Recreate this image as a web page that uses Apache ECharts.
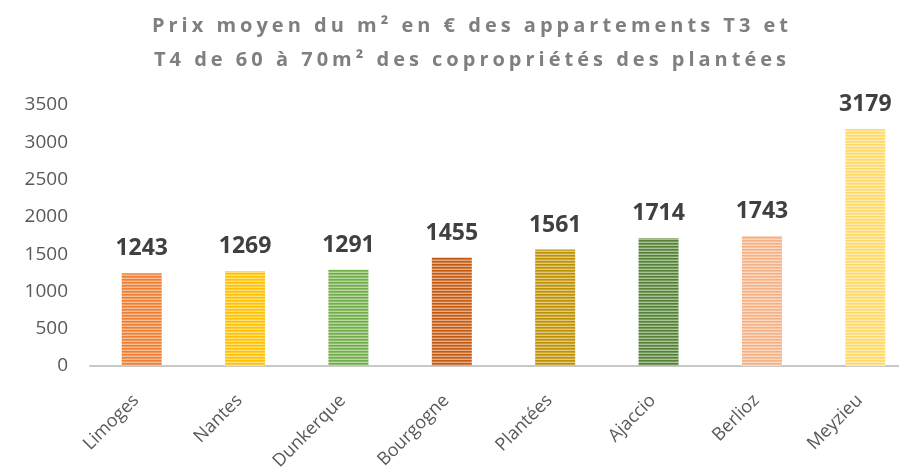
<!DOCTYPE html>
<html>
<head>
<meta charset="utf-8">
<script src="https://cdn.jsdelivr.net/npm/echarts@6/dist/echarts.min.js"></script>
<style>
    html, body { margin: 0; padding: 0; background: #fff; }
    #wrap { position: relative; width: 899px; height: 474px; overflow: hidden; }
    #titre {
        position: absolute; left: 0; top: 8px; width: 944px;
        text-align: center; font-family: "Open Sans"; font-weight: bold;
        font-size: 20px; line-height: 34px; color: #7f7f7f; letter-spacing: 4px;
    }
    #chart { width: 899px; height: 474px; }
</style>
</head>
<body>
<div id="wrap">
    <div id="chart"></div>
    <div id="titre">Prix moyen du m² en € des appartements T3 et<br>T4 de 60 à 70m² des copropriétés des plantées</div>
</div>
<script>
// données
var villes = ['Limoges', 'Nantes', 'Dunkerque', 'Bourgogne', 'Plantées', 'Ajaccio', 'Berlioz', 'Meyzieu'];
var prix = [1243, 1269, 1291, 1455, 1561, 1714, 1743, 3179];
var couleurs = ['#ED7D31', '#FFC000', '#70AD47', '#C55A11', '#BF9000', '#548235', '#F4B183', '#FFD966'];
var yTicks = [0, 500, 1000, 1500, 2000, 2500, 3000, 3500];

// mélange avec du blanc
function eclaircir(hex, t) {
    var r = parseInt(hex.substr(1, 2), 16), g = parseInt(hex.substr(3, 2), 16), b = parseInt(hex.substr(5, 2), 16);
    r = Math.round(r + (255 - r) * t); g = Math.round(g + (255 - g) * t); b = Math.round(b + (255 - b) * t);
    return 'rgb(' + r + ',' + g + ',' + b + ')';
}

// motif rayé horizontal
function rayures(hex) {
    var c = document.createElement('canvas');
    c.width = 4; c.height = 3;
    var ctx = c.getContext('2d');
    ctx.fillStyle = hex; ctx.fillRect(0, 0, 4, 1);
    ctx.fillStyle = eclaircir(hex, 0.2); ctx.fillRect(0, 1, 4, 1);
    ctx.fillStyle = eclaircir(hex, 0.5); ctx.fillRect(0, 2, 4, 1);
    return { image: c, repeat: 'repeat' };
}

var e = echarts.init(document.getElementById('chart'));
var option = {
    animation: false,
    // la zone de tracé déborde à droite comme dans l'original
    grid: { left: 90, width: 827, top: 105, bottom: 108, containLabel: false, outerBoundsMode: 'none' },
    xAxis: {
        type: 'category',
        data: villes,
        axisLine: { lineStyle: { color: '#c8c8c8', width: 2 } },
        axisTick: { show: false },
        axisLabel: {
            rotate: 45, interval: 0, margin: 26, padding: [0, 8, 0, 0],
            fontFamily: 'Open Sans', fontSize: 18, color: '#595959'
        }
    },
    yAxis: {
        type: 'value',
        min: 0, max: yTicks[yTicks.length - 1], interval: 500,
        axisLine: { show: false },
        axisTick: { show: false },
        splitLine: { show: false },
        axisLabel: {
            fontFamily: 'Open Sans', fontSize: 19, color: '#595959', margin: 22,
            formatter: function (v) { return String(v); }
        }
    },
    series: [{
        type: 'bar',
        barWidth: 40,
        data: prix.map(function (v, i) {
            return { value: v, itemStyle: { color: rayures(couleurs[i]) } };
        }),
        label: {
            show: true, position: 'top', distance: 13,
            fontFamily: 'Open Sans', fontWeight: 'bold', fontSize: 23, color: '#404040'
        }
    }]
};
e.setOption(option);
</script>
</body>
</html>
